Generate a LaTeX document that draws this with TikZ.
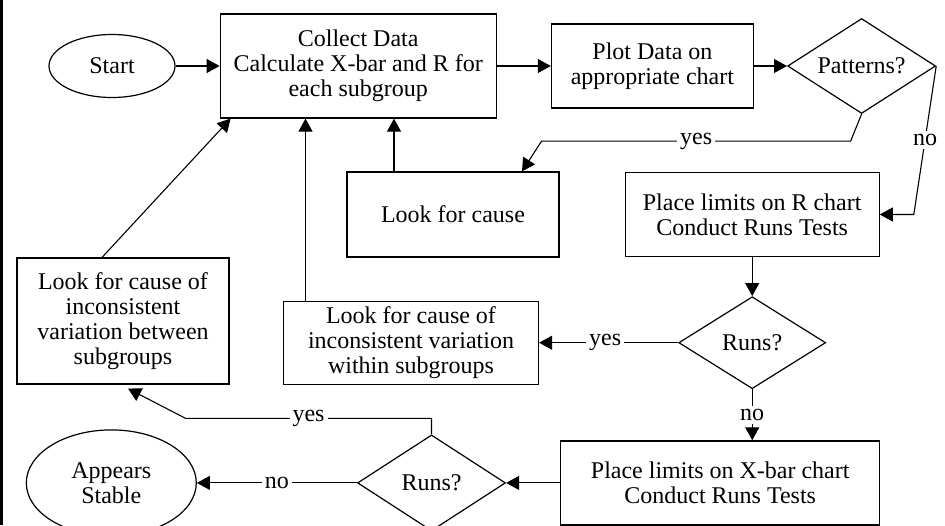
\documentclass[tikz,border=0pt]{standalone}
\usepackage{fontspec}
\setmainfont{Liberation Serif}
\usetikzlibrary{positioning, arrows.meta, shapes.geometric}

\begin{document}
\begin{tikzpicture}[
    block/.style={draw, inner sep=0pt, align=center},
    term/.style={draw, ellipse, inner sep=0pt, align=center},
    decision/.style={draw, diamond, shape aspect=1.6, inner sep=0pt, minimum width=74pt, minimum height=47pt, align=center},
    arr/.style={-{Triangle[length=6.5pt, width=7pt]}, line width=0.55pt},
    lbl/.style={fill=white, inner sep=1.5pt},
    every node/.style={font=\fontsize{12}{12.5}\selectfont, line width=0.6pt}
]
\clip (0,0) rectangle (472.5pt,-262.5pt);

% left frame line
\draw[line width=1.4pt] (0.7pt,0) -- (0.7pt,-262.5pt);

% Top row
\node[term, minimum width=63pt, minimum height=31.5pt] (start) at (56pt,-33pt) {Start};
\node[block, minimum width=138pt, minimum height=52pt, right=22pt of start] (collect) {Collect Data\\Calculate X-bar and R for\\each subgroup};
\node[block, minimum width=101pt, minimum height=42pt, right=27pt of collect] (plot) {Plot Data on\\appropriate chart};
\node[decision, minimum height=47.5pt, right=16.5pt of plot] (patterns) {Patterns?};

% Second row
\node[block, minimum width=106pt, minimum height=42.5pt] (cause) at (226.5pt,-107.25pt) {Look for cause};
\node[block, minimum width=127pt, minimum height=42pt, right=32.5pt of cause] (rchart) {Place limits on R chart\\Conduct Runs Tests};

% Third row
\node[decision, minimum width=73.5pt, minimum height=46pt, below=19.5pt of rchart] (runsA) {Runs?};
\node[block, minimum width=127.5pt, minimum height=41.5pt, left=69.5pt of runsA] (within) {Look for cause of\\inconsistent variation\\within subgroups};
\node[block, minimum width=106pt, minimum height=63pt] (between) at (61.5pt,-160.5pt) {Look for cause of\\inconsistent\\variation between\\subgroups};

% Bottom row
\node[block, minimum width=159.5pt, minimum height=42pt, below=25.5pt of runsA, xshift=-16pt] (xbar) {Place limits on X-bar chart\\Conduct Runs Tests};
\node[decision, minimum height=48pt, left=27pt of xbar] (runsB) {Runs?};
\node[term, minimum width=85pt, minimum height=53pt, left=80pt of runsB] (stable) {Appears\\Stable};

% Arrows
\draw[arr] (start) -- (collect);
\draw[arr] (collect) -- (plot);
\draw[arr] (plot) -- (patterns);
\draw[arr] (patterns.south) -- ++(-5.5pt,-13.5pt) -- node[lbl] {yes} ++(-154.5pt,0) -- ([xshift=34.5pt]cause.north);
\draw[arr] (patterns.east) -- node[lbl] {no} ([xshift=17pt]rchart.east) -- (rchart.east);
\draw[arr] (rchart) -- (runsA);
\draw[arr] (runsA.west) -- node[lbl, pos=0.525] {yes} (within.east);
\draw[arr] (runsA.south) -- node[lbl] {no} (runsA.south |- xbar.north);
\draw[arr] (xbar) -- (runsB);
\draw[arr] (runsB.west) -- node[lbl] {no} (stable.east);
\draw[arr] (runsB.north) -- ++(0,8pt) -- node[lbl] {yes} ++(-123pt,0) -- ([xshift=2.5pt, yshift=-2pt]between.south);

% Return arrows to Collect Data
\draw[arr] ([xshift=-29.5pt]cause.north) -- ([xshift=-29.5pt]cause.north |- collect.south);
\draw[arr] ([xshift=-52.75pt]within.north) -- ([xshift=-52.75pt]within.north |- collect.south);
\draw[arr] ([xshift=-10.5pt]between.north) -- ([xshift=5.5pt]collect.south west);

\end{tikzpicture}
\end{document}
